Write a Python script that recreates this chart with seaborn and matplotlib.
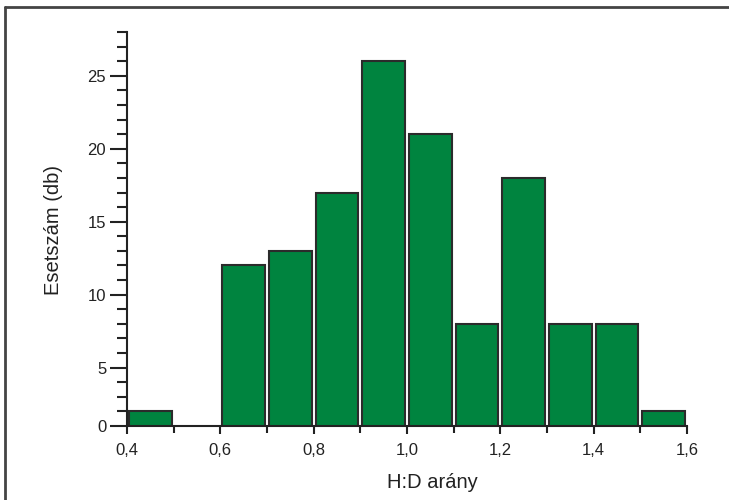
import matplotlib
matplotlib.use("Agg")
import matplotlib.pyplot as plt
import seaborn as sns
import numpy as np
import pandas as pd
from matplotlib.lines import Line2D
from matplotlib.ticker import FixedLocator

# ---- data ----
bin_start = [0.4, 0.5, 0.6, 0.7, 0.8, 0.9, 1.0, 1.1, 1.2, 1.3, 1.4, 1.5]
counts = [2, 0, 12, 13, 17, 26, 21, 8, 18, 8, 8, 2]
bin_width = 0.1
x_ticks = [0.4, 0.6, 0.8, 1.0, 1.2, 1.4, 1.6]
x_tick_labels = ["0,4", "0,6", "0,8", "1,0", "1,2", "1,4", "1,6"]
x_minor = [0.5, 0.7, 0.9, 1.1, 1.3, 1.5]
y_ticks = [1, 5, 10, 15, 20, 25]
y_tick_labels = ["0", "5", "10", "15", "20", "25"]
y_minor = [v for v in range(2, 29) if v not in y_ticks]
x_label = "H:D arány"
y_label = "Esetszám (db)"

sns.set_theme(style="ticks")
plt.rcParams["font.family"] = ["Liberation Sans", "DejaVu Sans"]

W, H = 729, 500
fig = plt.figure(figsize=(W / 100, H / 100), dpi=100)
fig.patch.set_facecolor("white")
ax = fig.add_axes([127 / W, 1 - 426 / H, 560 / W, 394 / H])
ax.set_facecolor("white")

df = pd.DataFrame({"start": bin_start, "count": counts})
df["center"] = df["start"] + bin_width / 2
edges = [float(v) for v in np.append(np.array(bin_start), bin_start[-1] + bin_width)]

sns.histplot(data=df, x="center", weights="count", bins=edges, shrink=0.92,
             color="#00843F", edgecolor="#2b2b2b", linewidth=1.5, alpha=1, ax=ax)

ax.set_xlim(0.4, 1.6)
ax.set_ylim(1, 28)
sns.despine(ax=ax)
for s in ("left", "bottom"):
    ax.spines[s].set_color("#222222")
    ax.spines[s].set_linewidth(1.5)

ax.xaxis.set_major_locator(FixedLocator(x_ticks))
ax.set_xticklabels(x_tick_labels)
ax.xaxis.set_minor_locator(FixedLocator(x_minor))
ax.yaxis.set_major_locator(FixedLocator(y_ticks))
ax.set_yticklabels(y_tick_labels)
ax.yaxis.set_minor_locator(FixedLocator(y_minor))

ax.tick_params(axis="x", which="major", direction="out", length=6, width=1.5,
               color="#222222", labelsize=12, labelcolor="#222222", pad=6)
ax.tick_params(axis="x", which="minor", direction="out", length=5, width=1.5,
               color="#222222")
ax.tick_params(axis="y", which="major", direction="out", length=12, width=1.5,
               color="#222222", labelsize=12, labelcolor="#222222", pad=3)
ax.tick_params(axis="y", which="minor", direction="out", length=7, width=1.5,
               color="#222222")

ax.set_xlabel(x_label, fontsize=14.5, color="#222222")
ax.set_ylabel(y_label, fontsize=14.5, color="#222222")
ax.xaxis.set_label_coords(0.546, -0.12)
ax.yaxis.set_label_coords(-0.115, 0.497)

# outer frame lines (left and top)
fig.add_artist(Line2D([5 / W, 5 / W], [0, 1 - 7 / H], transform=fig.transFigure,
                      color="#444444", linewidth=2))
fig.add_artist(Line2D([5 / W, 1], [1 - 7 / H, 1 - 7 / H], transform=fig.transFigure,
                      color="#444444", linewidth=2))

fig.savefig("out.png", dpi=100)
